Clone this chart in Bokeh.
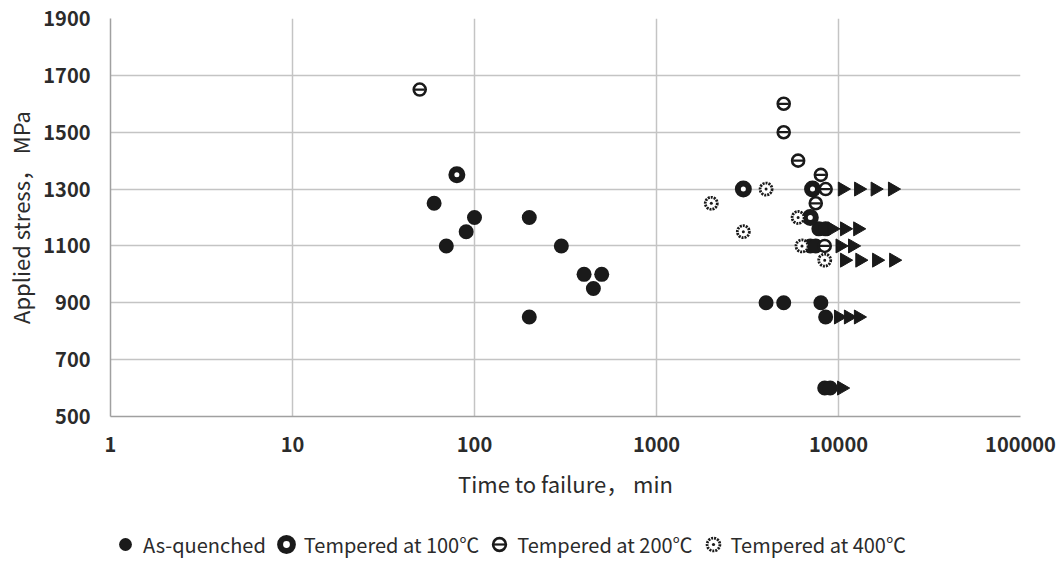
import math
from bokeh.plotting import figure
from bokeh.layouts import column
from bokeh.models import FixedTicker, NumeralTickFormatter, Legend, LegendItem
from bokeh.embed import file_html
from bokeh.resources import INLINE

# ---------------- data ----------------
x_ticks = [1, 10, 100, 1000, 10000, 100000]
y_ticks = [500, 700, 900, 1100, 1300, 1500, 1700, 1900]

aq_time = [60, 70, 90, 100, 200, 300, 400, 500, 450, 200,
           4000, 5000, 8000, 8500, 7800, 8500, 7000, 7500, 8400, 9000]
aq_stress = [1250, 1100, 1150, 1200, 1200, 1100, 1000, 1000, 950, 850,
             900, 900, 900, 850, 1160, 1160, 1100, 1100, 600, 600]

t100_time = [80, 3000, 7200, 7000]
t100_stress = [1350, 1300, 1300, 1200]

t200_time = [50, 5000, 5000, 6000, 8000, 8500, 7500, 8400]
t200_stress = [1650, 1600, 1500, 1400, 1350, 1300, 1250, 1100]

t400_time = [2000, 3000, 4000, 6000, 6300, 8400]
t400_stress = [1250, 1150, 1300, 1200, 1100, 1050]

runout_time = [10500, 12900, 15900, 19800,
               9200, 10800, 12750,
               10200, 11950,
               10800, 13100, 16200, 20100,
               10000, 11340, 12870,
               10400]
runout_stress = [1300, 1300, 1300, 1300,
                 1160, 1160, 1160,
                 1100, 1100,
                 1050, 1050, 1050, 1050,
                 850, 850, 850,
                 600]

x_title = "Time to failure， min"
y_title = "Applied stress， MPa"
labels = ["As-quenched", "Tempered at 100℃", "Tempered at 200℃", "Tempered at 400℃"]

# ---------------- styles ----------------
FONT = "Noto Sans CJK SC"
INK = "#1a1a1a"
TXT = "#2b2b2b"
STY_AQ = dict(marker="circle", size=15, fill_color=INK, line_color=None)
STY_100 = dict(marker="circle", size=11, fill_color="white", line_color=INK, line_width=6)
STY_200A = dict(marker="circle", size=12, fill_color="white", line_color=INK, line_width=2.6)
STY_200B = dict(marker="dash", size=10, line_color=INK, line_width=2.2)
STY_400 = dict(marker="circle_dot", size=12, fill_color="white", line_color=INK, line_width=2.8)

# ---------------- main figure ----------------
p = figure(width=1058, height=512, frame_width=910, frame_height=398,
           x_axis_type="log", x_range=(1, 100000), y_range=(500, 1900),
           output_backend="svg", toolbar_location=None,
           min_border_left=110, min_border_right=38, min_border_top=18,
           min_border_bottom=96)
p.outline_line_color = None

for ax in (p.xaxis[0], p.yaxis[0]):
    ax.major_tick_line_color = None
    ax.minor_tick_line_color = None
    ax.axis_line_color = "#a0a0a0"
    ax.axis_line_width = 1.5
    ax.major_label_text_font = FONT
    ax.major_label_text_font_style = "bold"
    ax.major_label_text_font_size = "20px"
    ax.major_label_text_color = TXT
    ax.axis_label_text_font = FONT
    ax.axis_label_text_font_style = "normal"
    ax.axis_label_text_font_size = "22px"
    ax.axis_label_text_color = TXT

p.xaxis.ticker = FixedTicker(ticks=x_ticks)
p.xaxis.formatter = NumeralTickFormatter(format="0")
p.yaxis.ticker = FixedTicker(ticks=y_ticks)
p.xaxis.major_label_standoff = 14
p.yaxis.major_label_standoff = 14
p.xaxis.axis_label = x_title
p.yaxis.axis_label = y_title
p.xaxis.axis_label_standoff = 12
p.yaxis.axis_label_standoff = 4

for g in (p.xgrid[0], p.ygrid[0]):
    g.grid_line_color = "#c4c4c4"
    g.grid_line_width = 1.5
p.xgrid.minor_grid_line_color = None

p.scatter(aq_time, aq_stress, **STY_AQ)
p.scatter(t100_time, t100_stress, **STY_100)
p.scatter(t200_time, t200_stress, **STY_200A)
p.scatter(t200_time, t200_stress, **STY_200B)
r = p.scatter(t400_time, t400_stress, **STY_400)
r.glyph.line_dash = "2 1"
p.scatter(runout_time, runout_stress, marker="triangle", size=14,
          angle=-math.pi / 2, fill_color=INK, line_color=INK)

# ---------------- legend strip ----------------
lg = figure(width=1058, height=54, output_backend="svg", toolbar_location=None,
            x_axis_location=None, y_axis_location=None,
            min_border_left=0, min_border_right=0, min_border_top=0,
            min_border_bottom=0, x_range=(0, 1), y_range=(0, 1))
lg.outline_line_color = None
lg.xgrid.visible = False
lg.ygrid.visible = False

# hidden copies of the series, used only to draw the legend swatches
e_aq = lg.scatter(aq_time, aq_stress, visible=False, **STY_AQ)
e_100 = lg.scatter(t100_time, t100_stress, visible=False, **STY_100)
e_200a = lg.scatter(t200_time, t200_stress, visible=False, **STY_200A)
e_200b = lg.scatter(t200_time, t200_stress, visible=False, **STY_200B)
e_400 = lg.scatter(t400_time, t400_stress, visible=False, **STY_400)
e_400.glyph.line_dash = "2 1"

legend = Legend(items=[
    LegendItem(label=labels[0], renderers=[e_aq]),
    LegendItem(label=labels[1], renderers=[e_100]),
    LegendItem(label=labels[2], renderers=[e_200a, e_200b]),
    LegendItem(label=labels[3], renderers=[e_400]),
], orientation="horizontal", location=(-1, 6))
legend.label_text_font = FONT
legend.label_text_font_size = "20px"
legend.label_text_color = TXT
legend.glyph_width = 32
legend.glyph_height = 32
legend.label_height = 32
legend.label_standoff = 2
legend.spacing = 4
legend.padding = 0
legend.margin = 0
legend.border_line_color = None
legend.background_fill_alpha = 0
legend.inactive_fill_alpha = 0
legend.click_policy = "none"
lg.add_layout(legend, "center")

layout = column(p, lg, spacing=0)
open("out.html", "w").write(file_html(layout, INLINE))
